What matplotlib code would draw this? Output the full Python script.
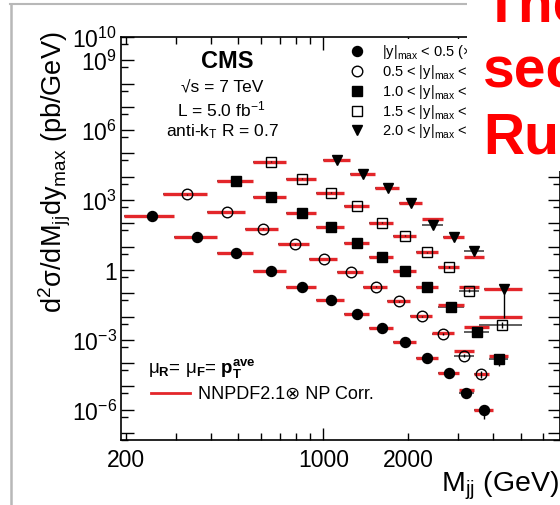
import matplotlib
matplotlib.use("Agg")
import matplotlib.pyplot as plt
from matplotlib.lines import Line2D
from matplotlib.patches import Rectangle
from matplotlib.transforms import Bbox, TransformedBbox
import numpy as np

plt.rcParams["font.family"] = ["Liberation Sans", "DejaVu Sans"]
plt.rcParams["mathtext.fontset"] = "custom"
plt.rcParams["mathtext.rm"] = "Liberation Sans"
plt.rcParams["mathtext.it"] = "Liberation Sans:italic"
plt.rcParams["mathtext.bf"] = "Liberation Sans:bold"
plt.rcParams["mathtext.default"] = "regular"

# ---- dijet mass bins (GeV), measured and NLO cross sections, per |y|max bin ----
edges_y05 = [197, 296, 419, 565, 740, 944, 1181, 1455, 1770, 2132, 2546, 3019, 3416, 4010]
data_y05 = [2.1e2, 2.7e1, 5.2, 0.91, 0.19, 4.9e-2, 1.26e-2, 3.1e-3, 8.3e-4, 1.66e-4, 3.9e-5, 5.4e-6, 1.0e-6]
theo_y05 = [2.1e2, 2.7e1, 5.2, 0.91, 0.19, 4.9e-2, 1.26e-2, 3.1e-3, 8.3e-4, 1.66e-4, 3.9e-5, 7.1e-6, 1.0e-6]
errlo_y05 = [0.03, 0.03, 0.03, 0.03, 0.03, 0.03, 0.03, 0.03, 0.05, 0.08, 0.12, 0.4, 0.62]
errhi_y05 = [0.03, 0.03, 0.03, 0.03, 0.03, 0.03, 0.03, 0.03, 0.05, 0.08, 0.12, 0.4, 0.62]

edges_y10 = [270, 386, 526, 693, 890, 1118, 1383, 1687, 2037, 2438, 2895, 3416, 3854]
data_y10 = [1.78e3, 3.1e2, 5.9e1, 1.26e1, 2.9, 0.83, 0.19, 4.5e-2, 1.05e-2, 1.8e-3, 2.1e-4, 3.4e-5]
theo_y10 = [1.78e3, 3.1e2, 5.9e1, 1.26e1, 2.9, 0.83, 0.19, 4.5e-2, 1.05e-2, 2.0e-3, 3.2e-4, 3.4e-5]
errlo_y10 = [0.03, 0.03, 0.03, 0.03, 0.03, 0.03, 0.03, 0.04, 0.05, 0.08, 0.15, 0.3]
errhi_y10 = [0.03, 0.03, 0.03, 0.03, 0.03, 0.03, 0.03, 0.04, 0.05, 0.08, 0.15, 0.3]

edges_y15 = [419, 565, 740, 944, 1181, 1455, 1770, 2132, 2546, 3147, 3854, 4509]
data_y15 = [6.9e3, 1.32e3, 2.8e2, 7.2e1, 1.5e1, 3.5, 0.91, 0.18, 2.5e-2, 2.2e-3, 1.45e-4]
theo_y15 = [6.9e3, 1.32e3, 2.8e2, 7.2e1, 1.5e1, 3.5, 0.91, 0.18, 3.0e-2, 3.5e-3, 1.95e-4]
errlo_y15 = [0.03, 0.03, 0.03, 0.03, 0.03, 0.03, 0.04, 0.05, 0.08, 0.15, 0.5]
errhi_y15 = [0.03, 0.03, 0.03, 0.03, 0.03, 0.03, 0.04, 0.05, 0.08, 0.15, 0.5]

edges_y20 = [565, 740, 944, 1181, 1455, 1770, 2132, 2546, 3019, 3558, 5058]
data_y20 = [4.5e4, 8.3e3, 2.1e3, 5.5e2, 1.07e2, 3.0e1, 5.8, 1.35, 0.13, 4.4e-3]
theo_y20 = [4.5e4, 8.3e3, 2.1e3, 5.5e2, 1.07e2, 3.0e1, 5.8, 1.35, 0.19, 9.4e-3]
errlo_y20 = [0.03, 0.03, 0.03, 0.03, 0.03, 0.04, 0.05, 0.08, 0.15, 0.3]
errhi_y20 = [0.03, 0.03, 0.03, 0.03, 0.03, 0.04, 0.05, 0.08, 0.15, 0.3]

edges_y25 = [1000, 1246, 1530, 1856, 2231, 2659, 3147, 3704, 5058]
data_y25 = [5.4e4, 1.38e4, 3.2e3, 7.4e2, 8.7e1, 2.7e1, 6.3, 0.145]
theo_y25 = [5.4e4, 1.38e4, 3.2e3, 7.4e2, 1.55e2, 2.7e1, 3.5, 0.145]
errlo_y25 = [0.03, 0.03, 0.03, 0.04, 0.06, 0.08, 0.15, 0.94]
errhi_y25 = [0.03, 0.03, 0.03, 0.04, 0.06, 0.08, 0.15, 0.3]

legend_labels = [
    r"|y|$_{max}$ < 0.5 (×10$^{4}$)",
    r"0.5 < |y|$_{max}$ < 1.0 (×10$^{3}$)",
    r"1.0 < |y|$_{max}$ < 1.5 (×10$^{2}$)",
    r"1.5 < |y|$_{max}$ < 2.0 (×10$^{1}$)",
    r"2.0 < |y|$_{max}$ < 2.5 (×10$^{0}$)",
]

ytick_vals = [1e-7, 1e-6, 1e-5, 1e-4, 1e-3, 1e-2, 1e-1, 1, 1e1, 1e2, 1e3, 1e4, 1e5, 1e6, 1e7, 1e8, 1e9, 1e10]
ytick_labels = ["", r"$10^{-6}$", "", "", r"$10^{-3}$", "", "", "1", "", "", r"$10^{3}$", "", "",
                r"$10^{6}$", "", "", r"$10^{9}$", r"$10^{10}$"]
yminor_vals = [5e-8, 5e-7, 5e-6, 5e-5, 5e-4, 5e-3, 5e-2, 0.5, 5, 50, 5e2, 5e3, 5e4, 5e5, 5e6, 5e7, 5e8, 5e9]
xmajor_vals = [1000]
xmajor_labels = ["1000"]
xminor_vals = [200, 300, 400, 500, 600, 700, 800, 900, 2000, 3000, 4000, 5000, 6000]
xminor_labels = ["200", "", "", "", "", "", "", "", "2000", "", "", "", ""]

RED = "#e3262a"
W, H = 560, 506


def fx(x):
    return x / W


def fy(y):
    return 1 - y / H


fig = plt.figure(figsize=(W / 100, H / 100), dpi=100)
fig.patch.set_facecolor("white")
ax = fig.add_axes([fx(121), fy(441), (560 - 121) / W, (441 - 38) / H])
ax.set_xscale("log")
ax.set_yscale("log")
ax.set_xlim(192, 6900)
ax.set_ylim(1e-7, 1e10)

series = [
    (edges_y05, data_y05, theo_y05, errlo_y05, errhi_y05, dict(marker="o", ms=7.2, mfc="black")),
    (edges_y10, data_y10, theo_y10, errlo_y10, errhi_y10, dict(marker="o", ms=7.6, mfc="none", mew=1.0)),
    (edges_y15, data_y15, theo_y15, errlo_y15, errhi_y15, dict(marker="s", ms=6.6, mfc="black")),
    (edges_y20, data_y20, theo_y20, errlo_y20, errhi_y20, dict(marker="s", ms=6.8, mfc="none", mew=1.0)),
    (edges_y25, data_y25, theo_y25, errlo_y25, errhi_y25, dict(marker="v", ms=7.4, mfc="black")),
]

for edges, data, theo, elo, ehi, mk in series:
    e = np.asarray(edges, dtype=float)
    lo, hi = e[:-1], e[1:]
    ctr = 0.5 * (lo + hi)
    d = np.asarray(data)
    ax.hlines(d, lo, hi, color="#333333", lw=1.1, zorder=2)
    ax.hlines(theo, lo, hi, color=RED, lw=2.4, zorder=3)
    ax.errorbar(ctr, d, yerr=[d * np.asarray(elo), d * np.asarray(ehi)], fmt="none",
                ecolor="black", elinewidth=1.0, capsize=0, zorder=4)
    ax.plot(ctr, d, ls="none", mec="black", zorder=5, **mk)

# axes styling
for s in ax.spines.values():
    s.set_linewidth(1.2)
ax.set_yticks(ytick_vals, labels=ytick_labels)
ax.set_yticks(yminor_vals, minor=True)
ax.set_xticks(xmajor_vals, labels=xmajor_labels)
ax.set_xticks(xminor_vals, labels=xminor_labels, minor=True)
ax.tick_params(which="both", direction="in", top=True, right=True, width=1.0, labelsize=16.5)
ax.tick_params(which="major", length=9)
ax.tick_params(which="minor", length=5)
ax.tick_params(axis="x", which="both", pad=6)
ax.tick_params(axis="y", which="both", pad=3)

# axis titles
fig.text(fx(55), fy(172), r"$\mathrm{d^{2}\sigma/dM_{jj}dy_{max}}$ (pb/GeV)", rotation=90,
         ha="center", va="center", fontsize=19.5)
fig.text(fx(559), fy(492), r"M$_{jj}$ (GeV)", ha="right", va="baseline", fontsize=20.5)

# experiment labels
fig.text(fx(227), fy(62), "CMS", ha="center", va="center", fontsize=17, fontweight="bold")
fig.text(fx(222), fy(87), "√s = 7 TeV", ha="center", va="center", fontsize=12.5)
fig.text(fx(221), fy(109), r"L = 5.0 fb$^{-1}$", ha="center", va="center", fontsize=12.5)
fig.text(fx(222), fy(132), r"anti-k$_{T}$ R = 0.7", ha="center", va="center", fontsize=12.5)

# white legend box over the upper frame
fig.add_artist(Rectangle((fx(330), fy(142)), (467 - 330) / W, (142 - 39.6) / H,
                         transform=fig.transFigure, facecolor="white", edgecolor="none", zorder=1))

# legend entries run under the title box on the right, so clip them at its edge
legend_clip = TransformedBbox(Bbox([[0, 0], [fx(467), 1]]), fig.transFigure)
leg_y = [52, 72, 92, 112, 131]
for (edges, data, theo, elo, ehi, mk), yy, lab in zip(series, leg_y, legend_labels):
    fig.add_artist(Line2D([fx(357)], [fy(yy)], ls="none", mec="black", transform=fig.transFigure,
                          zorder=2, **mk))
    t = fig.text(fx(382), fy(yy), lab, ha="left", va="center", fontsize=10.5, zorder=3)
    t.set_clip_box(legend_clip)
    t.set_clip_on(True)

fig.text(fx(148), fy(368), r"$μ_{\mathbf{R}}$= $μ_{\mathbf{F}}$= $\mathbf{p}_{\mathbf{T}}^{\mathbf{ave}}$",
         ha="left", va="center", fontsize=13.5)
fig.add_artist(Line2D([fx(151), fx(190)], [fy(394), fy(394)], color=RED, lw=2.0,
                      transform=fig.transFigure))
fig.text(fx(198), fy(394), "NNPDF2.1⊗ NP Corr.", ha="left", va="center", fontsize=13,
         family=["Liberation Sans", "DejaVu Sans"])

# slide frame and overlapping title box
fig.add_artist(Line2D([fx(10), fx(467)], [fy(5), fy(5)], color="#b8b8b8", lw=1.5,
                      transform=fig.transFigure, zorder=6))
fig.add_artist(Line2D([fx(11), fx(11)], [fy(5), fy(506)], color="#b8b8b8", lw=1.8,
                      transform=fig.transFigure, zorder=6))
fig.add_artist(Rectangle((fx(467), fy(172)), (W - 467) / W, 172 / H + 0.01,
                         transform=fig.transFigure, facecolor="white", edgecolor="none", zorder=10))
for word, base in [("The", 22), ("sec", 88), ("Ru", 153)]:
    fig.text(fx(483), fy(base), word, ha="left", va="baseline", color="#ff0000",
             fontsize=41, fontweight="bold", zorder=11)

fig.savefig("out.png", dpi=100)
